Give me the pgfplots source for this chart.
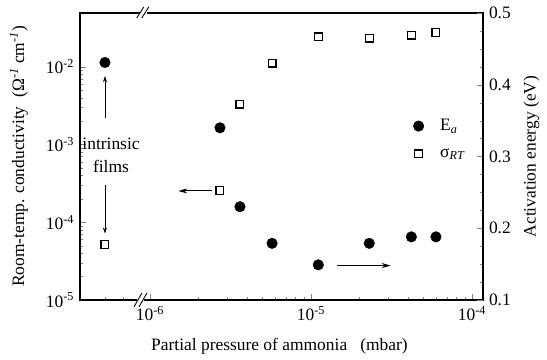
\documentclass[border=0pt]{standalone}
\usepackage{pgfplots}
\pgfplotsset{compat=1.18}
\usepackage{fontspec}
\setmainfont{Liberation Serif}
\usetikzlibrary{arrows.meta}

\pgfplotstableread{
x        s        e
5.25e-7  5.2e-5   0.431
2.72e-6  2.57e-4  0.340
3.62e-6  3.30e-3  0.230
5.73e-6  1.11e-2  0.179
1.11e-5  2.42e-2  0.149
2.30e-5  2.33e-2  0.179
4.20e-5  2.55e-2  0.188
5.97e-5  2.73e-2  0.188
}\datatable

\begin{document}
\fontsize{17.5}{20}\selectfont
\begin{tikzpicture}
\path[use as bounding box] (-80bp,-60bp) rectangle (467bp,300bp);
\begin{axis}[
  at={(0,0)}, anchor=south west,
  scale only axis, width=403bp, height=287bp,
  xmode=log, xmin=3.674e-7, xmax=1.17e-4,
  ymode=log, ymin=1e-5, ymax=0.049,
  tick align=inside,
  major tick length=6bp, minor tick length=3bp,
  axis line style={line width=1.3bp},
  xtick={1e-6,1e-5,1e-4},
  xticklabels={10\textsuperscript{-6},10\textsuperscript{-5},10\textsuperscript{-4}},
  minor xtick={5.25e-7,6.79e-7,2e-6,3e-6,4e-6,5e-6,6e-6,7e-6,8e-6,9e-6,2e-5,3e-5,4e-5,5e-5,6e-5,7e-5,8e-5,9e-5},
  ytick={1e-5,1e-4,1e-3,1e-2},
  yticklabels={10\textsuperscript{-5},10\textsuperscript{-4},10\textsuperscript{-3},10\textsuperscript{-2}},
  xtick pos=left, ytick pos=left,
  xlabel={Partial pressure of ammonia \ \ (mbar)},
  xlabel style={at={(axis description cs:0.495,-0.16)}, anchor=center},
  ylabel={Room-temp. conductivity \ (Ω\textsuperscript{\textit{-1}} cm\textsuperscript{\textit{-1}})},
  ylabel style={at={(axis description cs:-0.152,0.5)}, anchor=center},
  clip=false,
]
\addplot[only marks, mark=square, mark size=3.9bp, line width=1.2bp, black] table[x=x, y=s] {\datatable};
% axis breaks
\node[fill=white, inner sep=0, minimum width=7bp, minimum height=4bp] at (rel axis cs:0.150,0) {};
\draw[line width=0.9bp] ([xshift=-6.5bp,yshift=-7bp]rel axis cs:0.150,0) -- ++(8bp,14bp);
\draw[line width=0.9bp] ([xshift=-1.5bp,yshift=-7bp]rel axis cs:0.150,0) -- ++(8bp,14bp);
\node[fill=white, inner sep=0, minimum width=7bp, minimum height=4bp] at (rel axis cs:0.157,1) {};
\draw[line width=0.9bp] ([xshift=-6.5bp,yshift=-5bp]rel axis cs:0.157,1) -- ++(7bp,11bp);
\draw[line width=0.9bp] ([xshift=-1.5bp,yshift=-5bp]rel axis cs:0.157,1) -- ++(7bp,11bp);
% annotations
\node[align=center, inner sep=0, font=\fontsize{17.5}{23}\selectfont] at (rel axis cs:0.077,0.505) {intrinsic\\films};
\draw[-{Stealth[length=6bp,width=4bp]}, line width=0.6bp] (rel axis cs:0.062,0.634) -- (rel axis cs:0.062,0.780);
\draw[-{Stealth[length=6bp,width=4bp]}, line width=0.6bp] (rel axis cs:0.062,0.401) -- (rel axis cs:0.062,0.232);
\draw[-{Stealth[length=9bp,width=5bp]}, line width=1bp] (rel axis cs:0.327,0.380) -- (rel axis cs:0.244,0.380);
\draw[-{Stealth[length=9bp,width=5bp]}, line width=1bp] (rel axis cs:0.637,0.120) -- (rel axis cs:0.771,0.120);
\end{axis}
\begin{axis}[
  at={(0,0)}, anchor=south west,
  scale only axis, width=403bp, height=287bp,
  xmode=log, xmin=3.674e-7, xmax=1.17e-4,
  ymin=0.1, ymax=0.5,
  tick align=inside,
  major tick length=6bp, minor tick length=3bp,
  axis line style={line width=1.3bp},
  axis x line=none, axis y line*=right,
  ytick={0.1,0.2,0.3,0.4,0.5},
  yticklabels={0.1,0.2,0.3,0.4,0.5},
  minor ytick={0.125,0.15,0.175,0.225,0.25,0.275,0.325,0.35,0.375,0.425,0.45,0.475},
  ylabel={Activation energy (eV)},
  ylabel style={at={(axis description cs:1.12,0.5)}, anchor=center},
  legend image code/.code={\path (-6bp,0bp) (19bp,0bp); \draw[#1] plot coordinates {(0bp,0bp)};},
  legend style={draw=none, fill=none, at={(rel axis cs:0.816,0.645)}, anchor=north west,
    row sep=11bp},
  legend cell align=left,
]
\addplot[only marks, mark=*, mark size=5.3bp, black] table[x=x, y=e] {\datatable};
\addlegendentry{E\textsubscript{\textit{a}}}
\addlegendimage{only marks, mark=square, mark size=3.9bp, line width=1.2bp, black}
\addlegendentry{σ\textsubscript{\textit{RT}}}
\end{axis}
\end{tikzpicture}
\end{document}
